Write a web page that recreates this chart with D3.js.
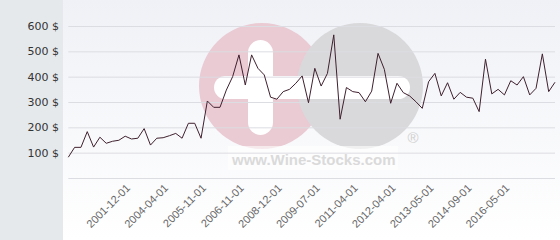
<!DOCTYPE html>
<html lang="en">
<head>
    <meta charset="UTF-8">
    <title>Wine price history</title>
    <script src="https://d3js.org/d3.v7.min.js"></script>
    <style>
        body{
            margin: 0;
        }
        svg{
            display: block;
        }
    </style>
</head>
<body>
<svg width="560" height="240"></svg>

<script>
    // price per point (78 points)
    const values = [82, 121, 121, 183, 122, 161, 137, 145, 149, 165,
        154, 157, 195, 130, 157, 159, 167, 176, 157, 216,
        216, 157, 304, 279, 279, 347, 400, 486, 367, 486,
        433, 407, 319, 311, 341, 350, 374, 403, 297, 433,
        363, 413, 565, 232, 357, 341, 337, 301, 343, 492,
        429, 295, 374, 337, 324, 301, 275, 380, 413, 324,
        376, 311, 338, 319, 315, 262, 469, 332, 350, 328,
        384, 367, 400, 328, 354, 490, 341, 378]
    // only every 6th category carries a label, starting at index 9
    const tickLabels = ["2001-12-01", "2004-04-01", "2005-11-01", "2006-11-01",
        "2008-12-01", "2009-07-01", "2011-04-01", "2012-04-01",
        "2013-05-01", "2014-09-01", "2016-05-01"]
    const tickIndex = d3.range(9, values.length, 6)
    const yTicks = [0, 100, 200, 300, 400, 500, 600]

    const svg = d3.select("svg")
    const left = 63

    // backgrounds
    const grad = svg.append("defs").append("linearGradient")
        .attr("id", "bg").attr("x1", 0).attr("y1", 0).attr("x2", 0).attr("y2", 1)
    grad.append("stop").attr("offset", "0%").attr("stop-color", "#eff1f6")
    grad.append("stop").attr("offset", "100%").attr("stop-color", "#ffffff")

    svg.append("rect").attr("width", 560).attr("height", 240).attr("fill", "url(#bg)")
    svg.append("rect").attr("width", left).attr("height", 240).attr("fill", "#e5e9ec")

    const xScale = d3.scalePoint().domain(d3.range(values.length)).range([68.3, 555])
    const yScale = d3.scaleLinear().domain([0, 600]).range([178, 26])

    // watermark
    const wm = svg.append("g").attr("class", "watermark")
    wm.append("circle").attr("cx", 262).attr("cy", 86).attr("r", 63).attr("fill", "#eacad3")
    wm.append("circle").attr("cx", 360).attr("cy", 86).attr("r", 63).attr("fill", "#d9d9db")
    wm.append("rect").attr("x", 248).attr("y", 40).attr("width", 25).attr("height", 95)
        .attr("rx", 12.5).attr("fill", "#ffffff")
    wm.append("rect").attr("x", 214).attr("y", 76).attr("width", 196).attr("height", 23)
        .attr("rx", 11.5).attr("fill", "#ffffff")
    wm.append("rect").attr("x", 228).attr("y", 146).attr("width", 170).attr("height", 24)
        .attr("fill", "#ffffff").attr("opacity", .6)
    wm.append("text").attr("x", 232).attr("y", 165)
        .attr("font-family", "Liberation Sans, Arial, sans-serif")
        .attr("font-weight", "bold").attr("font-size", 15)
        .attr("fill", "#dadada")
        .text("www.Wine-Stocks.com")
    wm.append("text").attr("x", 413).attr("y", 143).attr("text-anchor", "middle")
        .attr("font-family", "Liberation Sans, Arial, sans-serif")
        .attr("font-size", 15).attr("fill", "#d0d0d0")
        .text("®")

    // grid + y labels
    const yAxis = svg.append("g").attr("class", "yAxis")
    yAxis.selectAll("line").data(yTicks).enter().append("line")
        .attr("x1", 68.3).attr("x2", 555)
        .attr("y1", d => yScale(d) + .5).attr("y2", d => yScale(d) + .5)
        .attr("stroke", "#dcdde2").attr("stroke-width", 1)
    yAxis.selectAll("text").data(yTicks.filter(d => d > 0)).enter().append("text")
        .attr("x", 59).attr("y", d => yScale(d)).attr("dy", "0.35em")
        .attr("text-anchor", "end")
        .attr("font-family", "DejaVu Sans, Verdana, sans-serif")
        .attr("font-size", 11).attr("fill", "#333")
        .text(d => d + " $")

    // x labels, rotated
    const xAxis = svg.append("g").attr("class", "xAxis")
    xAxis.selectAll("text").data(tickIndex).enter().append("text")
        .attr("transform", d => `translate(${xScale(d) + 3},186) rotate(-45)`)
        .attr("dy", "0.35em")
        .attr("text-anchor", "end")
        .attr("font-family", "Liberation Sans, Arial, sans-serif")
        .attr("font-size", 11).attr("fill", "#666")
        .text((d, i) => tickLabels[i])

    // price line
    const lineGenerator = d3.line().x((d, i) => xScale(i)).y(d => yScale(d))
    svg.append("path")
        .datum(values)
        .attr("d", lineGenerator)
        .attr("fill", "none")
        .attr("stroke", "#40202e")
        .attr("stroke-width", 1)
</script>
</body>
</html>
